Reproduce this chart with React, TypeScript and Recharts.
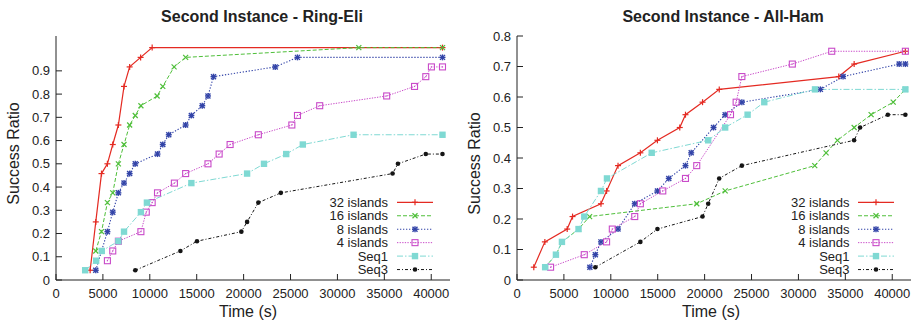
import React from 'react';
import { LineChart, Line, XAxis, YAxis, Label } from 'recharts';

const FONT = '"Liberation Sans", Arial, Helvetica, sans-serif';
const INK = '#222222';

// ---------- tick labels ----------
const timeTicks = [0, 5000, 10000, 15000, 20000, 25000, 30000, 35000, 40000];
const ringEliRatioTicks = [0, 0.1, 0.2, 0.3, 0.4, 0.5, 0.6, 0.7, 0.8, 0.9];
const allHamRatioTicks = [0, 0.1, 0.2, 0.3, 0.4, 0.5, 0.6, 0.7, 0.8];
const seriesNames = ['32 islands', '16 islands', '8 islands', '4 islands', 'Seq1', 'Seq3'];

// ---------- Second Instance - Ring-Eli ----------
const ringEli32Time = [3640, 4240, 4850, 5480, 6050, 6650, 7250, 7850, 9020, 10250, 41200];
const ringEli32Ratio = [0.042, 0.25, 0.458, 0.5, 0.583, 0.667, 0.833, 0.917, 0.958, 1.0, 1.0];

const ringEli16Time = [4240, 4850, 5480, 6050, 6650, 7250, 7850, 8450, 9050, 10780, 11380, 12590, 13820, 32280, 41200];
const ringEli16Ratio = [0.125, 0.208, 0.333, 0.375, 0.5, 0.583, 0.667, 0.708, 0.75, 0.792, 0.833, 0.917, 0.958, 1.0, 1.0];

const ringEli8Time = [4240, 5480, 6050, 6650, 7250, 7850, 8450, 10820, 11380, 12020, 13820, 14430, 15590, 16200, 16790, 23370, 25740, 41200];
const ringEli8Ratio = [0.042, 0.208, 0.292, 0.375, 0.417, 0.458, 0.5, 0.542, 0.583, 0.625, 0.667, 0.708, 0.75, 0.792, 0.875, 0.917, 0.958, 0.958];

const ringEli4Time = [5480, 6050, 6650, 9050, 9620, 10250, 10820, 12620, 13820, 16200, 17390, 18560, 21570, 25140, 25740, 28110, 35250, 38220, 39420, 40020, 41200];
const ringEli4Ratio = [0.083, 0.125, 0.167, 0.208, 0.292, 0.333, 0.375, 0.417, 0.458, 0.5, 0.542, 0.583, 0.625, 0.667, 0.708, 0.75, 0.792, 0.833, 0.875, 0.917, 0.917];

const ringEliSeq1Time = [3110, 4280, 4880, 6650, 7250, 9050, 9690, 14430, 20370, 22170, 24540, 26310, 31720, 41200];
const ringEliSeq1Ratio = [0.042, 0.083, 0.125, 0.167, 0.208, 0.292, 0.333, 0.417, 0.458, 0.5, 0.542, 0.583, 0.625, 0.625];

const ringEliSeq3Time = [8450, 13260, 15030, 19760, 20370, 21570, 23970, 35880, 36450, 39420, 41200];
const ringEliSeq3Ratio = [0.042, 0.125, 0.167, 0.208, 0.25, 0.333, 0.375, 0.458, 0.5, 0.542, 0.542];

// ---------- Second Instance - All-Ham ----------
const allHam32Time = [1790, 2970, 5350, 5920, 8950, 9550, 10770, 13150, 14970, 17350, 17960, 19780, 21560, 34300, 35940, 41400];
const allHam32Ratio = [0.042, 0.125, 0.167, 0.208, 0.25, 0.292, 0.375, 0.417, 0.458, 0.5, 0.542, 0.583, 0.625, 0.667, 0.708, 0.75];

const allHam16Time = [3000, 4150, 4820, 6560, 7740, 19160, 22190, 31740, 32950, 34160, 35940, 37750, 40100, 41400];
const allHam16Ratio = [0.042, 0.083, 0.125, 0.167, 0.208, 0.25, 0.292, 0.375, 0.417, 0.458, 0.5, 0.542, 0.583, 0.625];

const allHam8Time = [7770, 8350, 8950, 10770, 12550, 14970, 16180, 17960, 18570, 20950, 22190, 23970, 32340, 34760, 40740, 41400];
const allHam8Ratio = [0.042, 0.083, 0.125, 0.167, 0.25, 0.292, 0.333, 0.375, 0.417, 0.5, 0.542, 0.583, 0.625, 0.667, 0.708, 0.708];

const allHam4Time = [3580, 7170, 9550, 10160, 12550, 13150, 15540, 17960, 19160, 22760, 23360, 23970, 29350, 33550, 41400];
const allHam4Ratio = [0.042, 0.083, 0.125, 0.167, 0.208, 0.25, 0.292, 0.333, 0.375, 0.542, 0.583, 0.667, 0.708, 0.75, 0.75];

const allHamSeq1Time = [3000, 4150, 4790, 6560, 7170, 8950, 9590, 14360, 20380, 22190, 24580, 26360, 31770, 41400];
const allHamSeq1Ratio = [0.042, 0.083, 0.125, 0.167, 0.208, 0.292, 0.333, 0.417, 0.458, 0.5, 0.542, 0.583, 0.625, 0.625];

const allHamSeq3Time = [8350, 13150, 14970, 19775, 20380, 21555, 23970, 35935, 36575, 39530, 41400];
const allHamSeq3Ratio = [0.042, 0.125, 0.167, 0.208, 0.25, 0.333, 0.375, 0.458, 0.5, 0.542, 0.542];

// ---------- styles ----------
type Shape = 'plus' | 'cross' | 'star' | 'openSquare' | 'filledSquare' | 'circle';
const seriesStyle: Record<string, { color: string; dash?: string; width: number; shape: Shape }> = {
  '32 islands': { color: '#e42a22', width: 1.2, shape: 'plus' },
  '16 islands': { color: '#4fbf3a', dash: '4 2', width: 1, shape: 'cross' },
  '8 islands': { color: '#3344a8', dash: '1.3 1.7', width: 1.1, shape: 'star' },
  '4 islands': { color: '#c94ac9', dash: '1.3 1.3', width: 1, shape: 'openSquare' },
  'Seq1': { color: '#7fd9d3', dash: '6 2 1.5 2', width: 1, shape: 'filledSquare' },
  'Seq3': { color: '#151515', dash: '3 2 1 2', width: 1, shape: 'circle' },
};

const zip = (t: number[], v: number[]) => t.map((time, i) => ({ time, ratio: v[i] }));

const ringEliData = [
  zip(ringEli32Time, ringEli32Ratio),
  zip(ringEli16Time, ringEli16Ratio),
  zip(ringEli8Time, ringEli8Ratio),
  zip(ringEli4Time, ringEli4Ratio),
  zip(ringEliSeq1Time, ringEliSeq1Ratio),
  zip(ringEliSeq3Time, ringEliSeq3Ratio),
];
const allHamData = [
  zip(allHam32Time, allHam32Ratio),
  zip(allHam16Time, allHam16Ratio),
  zip(allHam8Time, allHam8Ratio),
  zip(allHam4Time, allHam4Ratio),
  zip(allHamSeq1Time, allHamSeq1Ratio),
  zip(allHamSeq3Time, allHamSeq3Ratio),
];

function Marker({ shape, cx, cy, color }: { shape: Shape; cx: number; cy: number; color: string }) {
  if (cx == null || cy == null || isNaN(cx) || isNaN(cy)) return null;
  const s = 3;
  switch (shape) {
    case 'plus':
      return (
        <g stroke={color} strokeWidth={1.2}>
          <line x1={cx - s} y1={cy} x2={cx + s} y2={cy} />
          <line x1={cx} y1={cy - s} x2={cx} y2={cy + s} />
        </g>
      );
    case 'cross':
      return (
        <g stroke={color} strokeWidth={1.2}>
          <line x1={cx - 2.5} y1={cy - 2.5} x2={cx + 2.5} y2={cy + 2.5} />
          <line x1={cx - 2.5} y1={cy + 2.5} x2={cx + 2.5} y2={cy - 2.5} />
        </g>
      );
    case 'star':
      return (
        <g stroke={color} strokeWidth={1.4}>
          <line x1={cx - 3} y1={cy} x2={cx + 3} y2={cy} />
          <line x1={cx} y1={cy - 3} x2={cx} y2={cy + 3} />
          <line x1={cx - 2.5} y1={cy - 2.5} x2={cx + 2.5} y2={cy + 2.5} />
          <line x1={cx - 2.5} y1={cy + 2.5} x2={cx + 2.5} y2={cy - 2.5} />
        </g>
      );
    case 'openSquare':
      return (
        <g>
          <rect x={cx - 3} y={cy - 3} width={6} height={6} fill="none" stroke={color} strokeWidth={1.1} />
          <rect x={cx - 0.6} y={cy - 0.6} width={1.2} height={1.2} fill={color} />
        </g>
      );
    case 'filledSquare':
      return <rect x={cx - 3.2} y={cy - 3.2} width={6.4} height={6.4} fill={color} />;
    case 'circle':
    default:
      return <circle cx={cx} cy={cy} r={2.3} fill={color} />;
  }
}

const BottomTick = (props: any) => {
  const { x, y, payload } = props;
  return (
    <g>
      <line x1={x} y1={y} x2={x} y2={y - 6} stroke={INK} strokeWidth={1} />
      <text x={x} y={y + 18} textAnchor="middle" fontSize={13} fontFamily={FONT} fill={INK}>
        {String(payload.value)}
      </text>
    </g>
  );
};
const TopTick = (props: any) => {
  const { x, y } = props;
  return <line x1={x} y1={y} x2={x} y2={y + 6} stroke={INK} strokeWidth={1} />;
};
const LeftTick = (props: any) => {
  const { x, y, payload } = props;
  return (
    <g>
      <line x1={x} y1={y} x2={x + 6} y2={y} stroke={INK} strokeWidth={1} />
      <text x={x - 6} y={y + 4.6} textAnchor="end" fontSize={13} fontFamily={FONT} fill={INK}>
        {String(payload.value)}
      </text>
    </g>
  );
};
const RightTick = (props: any) => {
  const { x, y } = props;
  return <line x1={x} y1={y} x2={x - 6} y2={y} stroke={INK} strokeWidth={1} />;
};

type PanelProps = {
  data: { time: number; ratio: number }[][];
  yMax: number;
  yTicks: number[];
  width: number;
  marginRight: number;
  yAxisWidth: number;
  yLabelOffset: number;
  yLabelDy: number;
  xLabelDx: number;
};

function Panel({ data, yMax, yTicks, width, marginRight, yAxisWidth, yLabelOffset, yLabelDy, xLabelDx }: PanelProps) {
  return (
    <LineChart width={width} height={325} margin={{ top: 36, right: marginRight, bottom: 0, left: 0 }}>
      <XAxis
        dataKey="time"
        type="number"
        domain={[0, 42000]}
        ticks={timeTicks}
        allowDataOverflow
        height={45}
        tickSize={0}
        tickMargin={0}
        tickLine={false}
        axisLine={{ stroke: INK, strokeWidth: 1 }}
        tick={<BottomTick />}
        interval={0}
      >
        <Label
          value="Time (s)"
          position="insideBottom"
          offset={8}
          dx={xLabelDx}
          fontSize={16}
          fontFamily={FONT}
          fill={INK}
          style={{ fontSize: 16, fontFamily: FONT, fill: INK }}
        />
      </XAxis>
      <XAxis
        xAxisId="top"
        orientation="top"
        dataKey="time"
        type="number"
        domain={[0, 42000]}
        ticks={timeTicks}
        allowDataOverflow
        height={0}
        tickSize={0}
        tickMargin={0}
        tickLine={false}
        axisLine={{ stroke: INK, strokeWidth: 1 }}
        tick={<TopTick />}
        interval={0}
      />
      <YAxis
        type="number"
        domain={[0, yMax]}
        ticks={yTicks}
        allowDataOverflow
        width={yAxisWidth}
        tickSize={0}
        tickMargin={0}
        tickLine={false}
        axisLine={{ stroke: INK, strokeWidth: 1 }}
        tick={<LeftTick />}
        interval={0}
      >
        <Label
          value="Success Ratio"
          position="insideLeft"
          angle={-90}
          offset={yLabelOffset}
          dy={yLabelDy}
          fontSize={16}
          fontFamily={FONT}
          fill={INK}
          style={{ textAnchor: 'middle', fontSize: 16, fontFamily: FONT, fill: INK }}
        />
      </YAxis>
      <YAxis
        yAxisId="right"
        orientation="right"
        type="number"
        domain={[0, yMax]}
        ticks={yTicks}
        allowDataOverflow
        width={0}
        tickSize={0}
        tickMargin={0}
        tickLine={false}
        axisLine={{ stroke: INK, strokeWidth: 1 }}
        tick={<RightTick />}
        interval={0}
      />
      {seriesNames.map((name, i) => {
        const st = seriesStyle[name];
        return (
          <Line
            key={name}
            name={name}
            data={data[i]}
            dataKey="ratio"
            type="linear"
            stroke={st.color}
            strokeWidth={st.width}
            strokeDasharray={st.dash}
            isAnimationActive={false}
            activeDot={false}
            dot={(p: any) => <Marker key={`${name}-${p.index}`} shape={st.shape} cx={p.cx} cy={p.cy} color={st.color} />}
          />
        );
      })}
    </LineChart>
  );
}

function LegendBlock({ textRight, lineStart, lineEnd, firstRowY }: { textRight: number; lineStart: number; lineEnd: number; firstRowY: number }) {
  return (
    <g>
      {seriesNames.map((name, i) => {
        const st = seriesStyle[name];
        const y = firstRowY + i * 13.45;
        const mid = (lineStart + lineEnd) / 2;
        return (
          <g key={name}>
            <text x={textRight} y={y + 4.7} textAnchor="end" fontSize={13} fontFamily={FONT} fill={INK}>
              {name}
            </text>
            <line x1={lineStart} y1={y} x2={lineEnd} y2={y} stroke={st.color} strokeWidth={st.width} strokeDasharray={st.dash} />
            <Marker shape={st.shape} cx={mid} cy={y} color={st.color} />
          </g>
        );
      })}
    </g>
  );
}

export default function App() {
  return (
    <div style={{ position: 'absolute', left: 0, top: 0, width: 917, height: 325, background: '#ffffff', overflow: 'hidden' }}>
      <div style={{ position: 'absolute', left: 0, top: 0 }}>
        <Panel
          data={ringEliData}
          yMax={1.05}
          yTicks={ringEliRatioTicks}
          width={458}
          marginRight={8}
          yAxisWidth={56}
          yLabelOffset={13.5}
          yLabelDy={-4.5}
          xLabelDx={-5}
        />
      </div>
      <div style={{ position: 'absolute', left: 458, top: 0 }}>
        <Panel
          data={allHamData}
          yMax={0.8}
          yTicks={allHamRatioTicks}
          width={459}
          marginRight={6}
          yAxisWidth={59}
          yLabelOffset={16}
          yLabelDy={5.5}
          xLabelDx={-3}
        />
      </div>
      <svg width={917} height={325} style={{ position: 'absolute', left: 0, top: 0, pointerEvents: 'none' }}>
        <text x={262} y={22} textAnchor="middle" fontSize={16} fontWeight="bold" fontFamily={FONT} fill={INK}>
          Second Instance - Ring-Eli
        </text>
        <text x={723} y={22} textAnchor="middle" fontSize={16} fontWeight="bold" fontFamily={FONT} fill={INK}>
          Second Instance - All-Ham
        </text>
        <LegendBlock textRight={388} lineStart={397} lineEnd={433} firstRowY={202.3} />
        <LegendBlock textRight={849.5} lineStart={858} lineEnd={894} firstRowY={202.3} />
      </svg>
    </div>
  );
}
